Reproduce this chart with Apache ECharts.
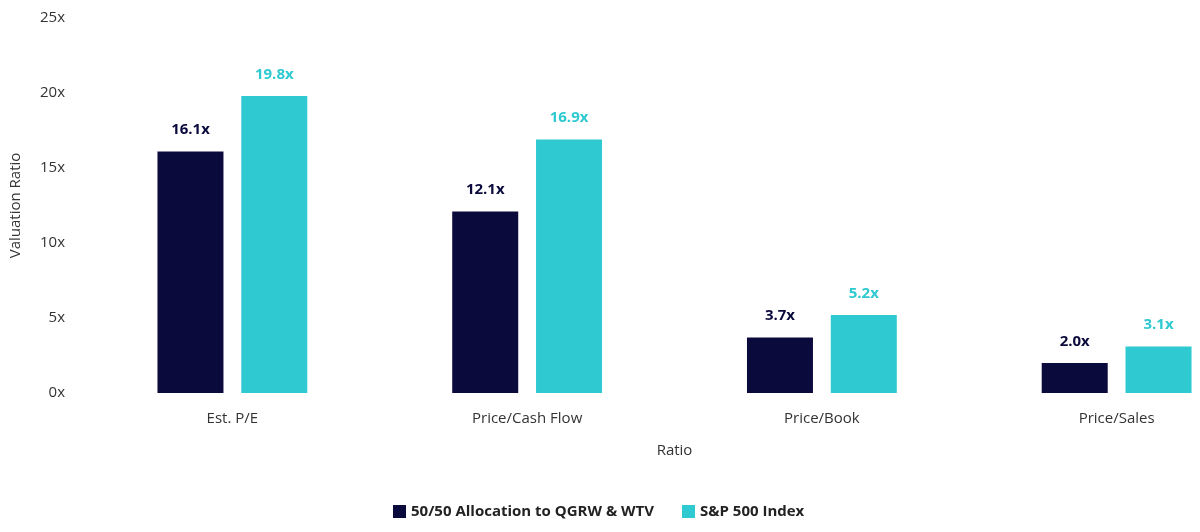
<!DOCTYPE html>
<html><head><meta charset="utf-8">
<script src="https://cdn.jsdelivr.net/npm/echarts@6/dist/echarts.min.js"></script>
<style>html,body{margin:0;padding:0;background:#fff;overflow:hidden;width:1200px;height:532px}#c{width:1290px;height:532px}</style>
</head><body><div id="c"></div>
<script>
const categories = ['Est. P/E', 'Price/Cash Flow', 'Price/Book', 'Price/Sales'];
const allocation = [16.1, 12.1, 3.7, 2.0];
const sp500 = [19.8, 16.9, 5.2, 3.1];
const seriesNames = ['50/50 Allocation to QGRW & WTV', 'S&P 500 Index'];
const colors = ['#0b0a3c', '#2ec9d1'];
const font = 'Open Sans';
const chart = echarts.init(document.getElementById('c'));
function mk(name, data, color) {
  return {
    name, type: 'bar', data, barWidth: 66, barGap: '27%',
    itemStyle: { color },
    label: { show: true, position: 'top', distance: 14, formatter: p => p.value.toFixed(1) + 'x',
      color, fontWeight: 'bold', fontSize: 15, fontFamily: font }
  };
}
chart.setOption({
  textStyle: { fontFamily: font },
  color: colors,
  grid: { left: 80, top: 18, width: 1184, height: 375 },
  legend: { bottom: 8, left: 388, itemWidth: 13, itemHeight: 13, itemGap: 28,
    icon: 'rect', textStyle: { fontWeight: 'bold', fontSize: 15, color: '#222', fontFamily: font } },
  xAxis: { type: 'category', data: categories, name: 'Ratio', nameLocation: 'middle', nameGap: 50,
    nameTextStyle: { fontSize: 15, color: '#333' },
    axisLine: { show: false }, axisTick: { show: false },
    axisLabel: { fontSize: 15, color: '#333', margin: 18 } },
  yAxis: { type: 'value', min: 0, max: 25, interval: 5, name: 'Valuation Ratio',
    nameLocation: 'middle', nameGap: 62, nameTextStyle: { fontSize: 15, color: '#333' },
    splitLine: { show: false }, axisLine: { show: false }, axisTick: { show: false },
    axisLabel: { formatter: v => v + 'x', fontSize: 15, color: '#333', margin: 20 } },
  series: [mk(seriesNames[0], allocation, colors[0]), mk(seriesNames[1], sp500, colors[1])]
});
</script></body></html>
